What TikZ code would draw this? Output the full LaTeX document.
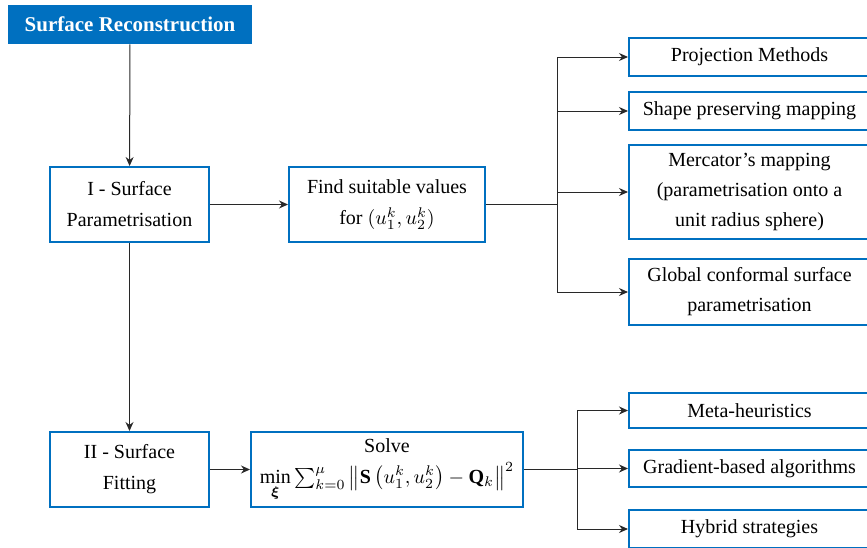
\documentclass[tikz,border=0pt]{standalone}
\usepackage{amsmath}
\usepackage{fontspec}
\setmainfont{LiberationSerif}[Extension=.ttf, UprightFont=*-Regular, BoldFont=*-Bold,
  ItalicFont=*-Italic, BoldItalicFont=*-BoldItalic]
\usepackage{xcolor}
\usepackage{tikz}
\usetikzlibrary{arrows.meta, positioning, calc}
\definecolor{boxblue}{RGB}{0,112,192}
\definecolor{linegray}{RGB}{40,40,40}
\tikzset{
  title/.style={rectangle, fill=boxblue, text=white, minimum width=122pt, minimum height=19.5pt,
                font=\rmfamily\fontsize{10.5}{12}\selectfont\bfseries, inner sep=0pt},
  stage/.style={rectangle, draw=boxblue, line width=1pt, fill=white, align=center,
                minimum width=79.5pt, minimum height=37.5pt, inner sep=0pt,
                font=\rmfamily\fontsize{10}{15.5}\selectfont},
  task/.style={stage, minimum width=98pt},
  method/.style={rectangle, draw=boxblue, line width=1pt, fill=white, align=center,
                 minimum width=120.5pt, inner sep=0pt, font=\rmfamily\fontsize{10}{15}\selectfont},
  arr/.style={-{Stealth[length=4.5pt, width=4pt]}, line width=0.5pt, draw=linegray},
  link/.style={line width=0.5pt, draw=linegray},
}

\begin{document}
\begin{tikzpicture}[x=0.5pt, y=-0.5pt]
\clip (0,0) rectangle (867,547);
% Titel und Stufen
\node[title] (rec) at (130,24.5) {Surface Reconstruction};
\node[stage] (param) at (129.5,204.5) {I - Surface\\Parametrisation};
\node[stage] (fit) at (129.5,469.5) {II - Surface\\Fitting};
\node[task] (find) at (387,204.5) {Find suitable values\\for $(u_1^k, u_2^k)$};
\node[task, minimum width=136pt] (solve) at (387,469.5)
  {Solve\\$\min\limits_{\boldsymbol{\xi}}\textstyle\sum_{k=0}^{\mu}\left\|\mathbf{S}\left(u_1^k,u_2^k\right)-\mathbf{Q}_k\right\|^2$};

% Methoden der Parametrisierung
\node[method, minimum height=19pt] (proj)  at (749.5,57)  {Projection Methods};
\node[method, minimum height=19pt] (shape) at (749.5,111) {Shape preserving mapping};
\node[method, minimum height=47pt] (merc)  at (749.5,192) {Mercator's mapping\\(parametrisation onto a\\unit radius sphere)};
\node[method, minimum height=33pt] (glob)  at (749.5,292) {Global conformal surface\\parametrisation};

% Methoden der Anpassung
\node[method, minimum height=17.5pt] (meta) at (749.5,410.5) {Meta-heuristics};
\node[method, minimum height=18.5pt] (grad) at (749.5,468.5) {Gradient-based algorithms};
\node[method, minimum height=19pt]   (hyb)  at (749.5,529)   {Hybrid strategies};

\draw[arr] (rec) -- (param);
\draw[arr] (param) -- (find);
\draw[arr] (param) -- (fit);
\draw[arr] (fit) -- (solve);

% Verzweigungen
\coordinate (br1) at (557,204.5);
\coordinate (br2) at (577,469.5);
\draw[link] (find.east) -- (br1);
\draw[link] (br1 |- proj) -- (br1 |- glob);
\foreach \m in {proj,shape,merc,glob} \draw[arr] (br1 |- \m) -- (\m.west);
\draw[link] (solve.east) -- (br2);
\draw[link] (br2 |- meta) -- (br2 |- hyb);
\foreach \m in {meta,grad,hyb} \draw[arr] (br2 |- \m) -- (\m.west);

\end{tikzpicture}
\end{document}
